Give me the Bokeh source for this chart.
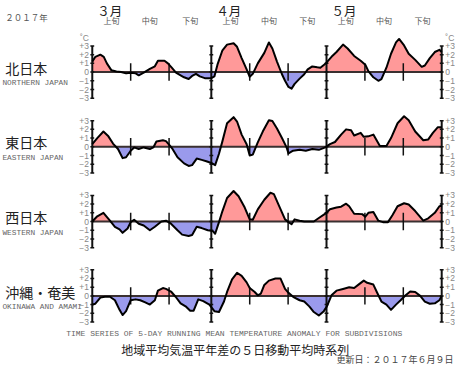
import numpy as np
from bokeh.plotting import figure
from bokeh.models import Label, Range1d
from bokeh.embed import file_html
from bokeh.resources import INLINE

# ---------------- data ----------------
REGIONS_JA = ["北日本", "東日本", "西日本", "沖縄・奄美"]
REGIONS_EN = ["NORTHERN JAPAN", "EASTERN JAPAN", "WESTERN JAPAN", "OKINAWA AND AMAMI"]
MONTHS = ["３月", "４月", "５月"]
MONTH_START = [0, 31, 61, 91]          # days since 1 March
DEKADS = ["上旬", "中旬", "下旬"]
DEKAD_START = [0, 10, 20, 31, 41, 51, 61, 71, 81, 91]
Y_TICKS = [3, 2, 1, 0, -1, -2, -3]
Y_TICK_LABELS = ["+3", "+2", "+1", "0", "−1", "−2", "−3"]
YEAR_LABEL = "２０１７年"
TITLE_EN = "TIME SERIES OF 5-DAY RUNNING MEAN TEMPERATURE ANOMALY FOR SUBDIVISIONS"
TITLE_JA = "地域平均気温平年差の５日移動平均時系列"
UPDATED = "更新日：２０１７年６月９日"

days_north = [0, 0.8, 2.1, 3.0, 3.8, 5.0, 6.3, 7.5, 8.8, 10.0,
              11.3, 12.1, 13.4, 15.0, 16.3, 17.1, 18.8, 19.7, 20.7, 21.8,
              23.0, 23.9, 25.1, 26.0, 27.0, 28.0, 29.3, 31.0, 31.8, 32.6,
              33.9, 35.1, 36.8, 37.7, 38.9, 40.2, 41.0, 41.8, 43.1, 44.8,
              46.0, 46.9, 48.1, 49.4, 50.2, 51.1, 51.9, 52.7, 54.0, 55.2,
              56.1, 57.3, 58.6, 59.4, 60.7, 62.3, 63.6, 65.3, 66.5, 68.2,
              69.9, 71.1, 71.9, 73.2, 74.5, 75.3, 76.6, 77.8, 79.1, 79.9,
              81.2, 82.4, 84.1, 85.8, 86.6, 87.9, 89.2, 90.4, 91.0]
anom_north = [1.2, 1.75, 2.0, 1.75, 1.0, 0.2, 0.07, 0.0, -0.15, -0.07,
              -0.15, -0.37, -0.07, 0.37, 0.66, 1.3, 1.3, 1.0, 0.5, -0.07,
              -0.37, -0.6, -0.8, -0.44, -0.2, -0.5, -0.7, -0.7, -0.5, 0.85,
              2.5, 3.15, 3.3, 2.9, 1.6, 0.3, -0.55, -0.2, 1.0, 2.2,
              3.4, 2.7, 1.2, -0.25, -1.0, -1.7, -1.9, -1.35, -0.75, -0.25,
              0.3, 0.65, 0.55, 0.5, 0.95, 1.75, 2.3, 3.15, 2.7, 1.85,
              1.3, 0.85, 0.1, -0.6, -1.0, -0.8, 0.5, 2.1, 3.4, 3.8,
              3.05, 2.1, 1.4, 0.6, 0.75, 1.6, 2.3, 2.55, 2.3]

days_east = [0, 1.3, 2.9, 4.2, 5.4, 6.7, 7.9, 8.8, 10.0, 10.9,
             12.1, 13.4, 15.0, 15.9, 16.7, 18.4, 19.2, 20.1, 20.9, 22.2,
             23.9, 25.1, 26.0, 27.2, 28.5, 29.7, 31.0, 32.0, 33.0, 33.9,
             35.1, 36.8, 37.7, 38.9, 40.2, 41.0, 41.8, 43.1, 44.4, 46.0,
             46.9, 48.1, 49.4, 50.6, 51.1, 52.3, 54.0, 55.6, 57.3, 59.0,
             60.7, 61.9, 63.2, 64.8, 66.1, 67.4, 68.2, 69.9, 70.7, 71.9,
             73.2, 74.9, 76.6, 77.8, 79.5, 81.2, 82.4, 84.1, 86.2, 87.5,
             88.7, 90.0, 91.0]
anom_east = [0.3, 1.0, 1.75, 1.2, 0.37, -0.25, -1.3, -1.2, -0.45, -0.07,
             -0.25, -0.07, -0.25, -0.07, 0.6, 0.75, 0.65, 0.2, -0.25, -1.2,
             -1.9, -2.2, -2.1, -1.35, -1.5, -1.65, -1.85, -2.1, -0.8, 0.65,
             2.7, 3.4, 2.9, 1.4, 0.3, -1.0, -0.9, 0.5, 1.75, 3.05,
             2.95, 2.1, 1.0, -0.07, -0.75, -0.45, -0.35, -0.45, -0.25, -0.35,
             -0.07, 0.3, 0.55, 1.4, 2.0, 1.9, 1.3, 1.6, 1.15, 1.2,
             1.4, 0.1, 0.1, 1.0, 2.7, 3.5, 3.05, 1.75, 0.75, 0.85,
             1.6, 2.25, 2.25]

days_west = [0, 1.3, 2.9, 4.6, 5.9, 7.1, 7.9, 9.2, 10.0, 10.9,
             12.1, 13.4, 15.0, 16.3, 18.0, 19.2, 20.5, 22.2, 23.4, 25.1,
             26.0, 27.2, 28.5, 30.1, 31.4, 32.0, 33.0, 33.9, 35.1, 36.8,
             38.1, 39.7, 41.0, 41.8, 43.1, 44.8, 46.4, 47.3, 48.5, 50.2,
             51.1, 51.9, 52.7, 54.0, 55.2, 56.5, 57.7, 59.0, 60.7, 61.9,
             63.6, 64.8, 66.1, 66.9, 68.2, 70.3, 71.1, 71.9, 73.2, 74.5,
             75.7, 77.0, 78.2, 79.5, 81.2, 82.4, 84.1, 86.2, 87.5, 89.2,
             90.4, 91.0]
anom_west = [0.0, 0.6, 1.0, 0.1, -0.6, -0.9, -1.3, -0.8, -0.07, 0.2,
             -0.25, -0.45, -1.0, -0.6, 0.0, 0.1, -0.25, -1.0, -1.5, -1.65,
             -1.55, -0.6, -0.75, -1.0, -1.1, -1.4, -0.07, 1.2, 2.7, 3.5,
             2.9, 1.6, 0.25, 0.2, 1.4, 2.5, 3.3, 3.15, 1.95, 0.25,
             -0.07, -0.3, 0.25, 0.1, 0.0, 0.0, 0.0, 0.4, 0.9, 1.4,
             1.6, 1.7, 2.05, 1.75, 0.9, 0.85, 0.55, 1.0, 1.1, 0.1,
             -0.07, -0.07, 0.75, 1.75, 2.1, 1.95, 1.2, 0.1, 0.37, 1.0,
             1.75, 1.8]

days_okinawa = [0, 0.8, 2.1, 3.3, 4.6, 5.9, 7.1, 7.9, 8.8, 10.0,
                11.3, 12.5, 13.8, 15.0, 16.3, 17.1, 18.4, 19.2, 20.5, 21.7,
                23.0, 24.3, 25.5, 26.4, 27.6, 28.9, 30.5, 31.8, 33.0, 34.3,
                35.1, 36.4, 37.7, 38.9, 40.2, 41.0, 42.3, 43.1, 43.9, 44.8,
                46.0, 47.7, 49.0, 50.2, 51.1, 52.3, 54.0, 55.2, 56.5, 57.7,
                59.0, 60.3, 61.1, 62.3, 63.6, 65.3, 66.9, 68.2, 69.5, 70.7,
                71.6, 73.2, 74.1, 75.3, 76.6, 77.8, 79.1, 80.3, 81.6, 82.8,
                84.1, 85.4, 86.6, 87.9, 89.2, 90.4, 91.0]
anom_okinawa = [-1.0, -0.9, -0.2, -0.1, -0.1, -0.5, -1.6, -2.2, -1.75, -0.5,
                -0.4, -0.5, -0.75, -1.0, -0.5, 0.6, 0.9, 0.8, 0.5, -0.1,
                -0.85, -1.2, -1.7, -1.7, -0.4, -0.6, -1.0, -1.75, -1.85, -0.65,
                0.45, 1.9, 2.65, 2.3, 1.55, 0.9, 0.45, 0.07, 0.25, 1.25,
                1.75, 2.0, 2.0, 0.8, 0.35, -0.1, -0.5, -0.65, -1.2, -1.85,
                -2.25, -1.75, -1.2, 0.07, 0.6, 0.8, 1.0, 0.9, 1.35, 1.75,
                1.5, 1.3, 0.45, -0.65, -1.0, -1.6, -1.0, -0.5, 0.07, 0.5,
                0.45, 0.0, -0.65, -0.9, -0.85, -0.5, 0.0]

SERIES = [(days_north, anom_north), (days_east, anom_east),
          (days_west, anom_west), (days_okinawa, anom_okinawa)]

# ---------------- layout helpers ----------------
W, H = 455, 366
REF_W, REF_H = 471, 382
PX_PER_DAY = 3.975      # reference pixels per day
PX_PER_DEG = 9.1        # reference pixels per degree
X0_REF, Y0_REF = 95.0, 74.7
PANEL_ZERO_REF = [74.7, 152.7, 230.7, 308.3]


def rx(xr):
    return (xr - X0_REF) / PX_PER_DAY


def ry(yr):
    return (Y0_REF - yr) / PX_PER_DEG


p = figure(width=W, height=H, x_range=Range1d(rx(0), rx(REF_W)),
           y_range=Range1d(ry(REF_H), ry(0)), output_backend="svg",
           toolbar_location=None, x_axis_type=None, y_axis_type=None,
           min_border=0, min_border_left=0, min_border_right=0,
           min_border_top=0, min_border_bottom=0)
p.grid.visible = False
p.outline_line_color = None
p.background_fill_color = "white"
p.border_fill_color = "white"

POS = "#ff9999"
NEG = "#9a9aec"
TICK_HALF = 0.5


def with_crossings(x, v):
    xs, vs = [x[0]], [v[0]]
    for i in range(1, len(x)):
        a, b = v[i - 1], v[i]
        if a * b < 0:
            t = a / (a - b)
            xs.append(x[i - 1] + t * (x[i] - x[i - 1]))
            vs.append(0.0)
        xs.append(x[i])
        vs.append(b)
    return np.array(xs, float), np.array(vs, float)


label_font_num = "Liberation Sans"
cjk = "Noto Sans CJK JP"
mono = "Liberation Mono"

for k, ((dx, dv), zref) in enumerate(zip(SERIES, PANEL_ZERO_REF)):
    off = ry(zref)
    xs, vs = with_crossings(dx, dv)
    p.varea(x=xs, y1=np.full(len(xs), off), y2=off + np.maximum(vs, 0),
            fill_color=POS, fill_alpha=1)
    p.varea(x=xs, y1=np.full(len(xs), off), y2=off + np.minimum(vs, 0),
            fill_color=NEG, fill_alpha=1)
    # zero line
    p.segment(x0=[MONTH_START[0]], x1=[MONTH_START[-1]], y0=[off], y1=[off],
              line_color="#3a3030", line_width=2)
    # month axes with degree ticks
    p.segment(x0=MONTH_START, x1=MONTH_START,
              y0=[off + min(Y_TICKS)] * len(MONTH_START),
              y1=[off + max(Y_TICKS)] * len(MONTH_START),
              line_color="#111111", line_width=2)
    tx0, tx1, ty = [], [], []
    for m in MONTH_START:
        for t in Y_TICKS:
            tx0.append(m - TICK_HALF)
            tx1.append(m + TICK_HALF)
            ty.append(off + t)
    p.segment(x0=tx0, x1=tx1, y0=ty, y1=ty, line_color="#111111", line_width=1.5)
    # dekad ticks
    inner = [d for d in DEKAD_START if d not in MONTH_START]
    p.segment(x0=inner, x1=inner, y0=[off - 1] * len(inner), y1=[off + 1] * len(inner),
              line_color="#111111", line_width=1.5)
    # curve
    p.line(x=dx, y=[off + v for v in dv], line_color="black", line_width=2,
           line_join="round")

    # tick labels both sides
    for t, lab in zip(Y_TICKS, Y_TICK_LABELS):
        p.add_layout(Label(x=rx(91.5), y=off + t, text=lab, text_align="right",
                           text_baseline="middle", text_font=label_font_num,
                           text_font_size="8.5px", text_color="#888888"))
        p.add_layout(Label(x=rx(460.5), y=off + t, text=lab, text_align="left",
                           text_baseline="middle", text_font=label_font_num,
                           text_font_size="8.5px", text_color="#888888"))
    # region names
    p.add_layout(Label(x=rx(5), y=ry(zref - 4.5), text=REGIONS_JA[k], text_align="left",
                       text_baseline="middle", text_font=cjk, text_font_size="14px",
                       text_color="#222222"))
    p.add_layout(Label(x=rx(2), y=ry(zref + 11.5), text=REGIONS_EN[k], text_align="left",
                       text_baseline="middle", text_font=mono, text_font_size="7.8px",
                       text_color="#666666"))

# degree unit labels (top panel)
for xr, al in [(91.5, "right"), (460.5, "left")]:
    p.add_layout(Label(x=rx(xr), y=ry(39.5), text="˚C", text_align=al,
                       text_baseline="middle", text_font=label_font_num,
                       text_font_size="8.5px", text_color="#888888"))

# month & dekad headers
for i, mname in enumerate(MONTHS):
    p.add_layout(Label(x=MONTH_START[i] + 1.3, y=ry(10), text=mname, text_align="left",
                       text_baseline="middle", text_font=cjk, text_font_size="12.5px",
                       text_color="#222222"))
for i in range(len(DEKAD_START) - 1):
    c = (DEKAD_START[i] + DEKAD_START[i + 1]) / 2
    p.add_layout(Label(x=c, y=ry(21), text=DEKADS[i % 3], text_align="center",
                       text_baseline="middle", text_font=cjk, text_font_size="8px",
                       text_color="#555555"))

p.add_layout(Label(x=rx(5), y=ry(17), text=YEAR_LABEL, text_align="left",
                   text_baseline="middle", text_font=cjk, text_font_size="8.5px",
                   text_color="#555555"))

# bottom titles
p.add_layout(Label(x=rx(68), y=ry(348), text=TITLE_EN, text_align="left",
                   text_baseline="middle", text_font=mono, text_font_size="8px",
                   text_color="#666666"))
p.add_layout(Label(x=rx(125), y=ry(364), text=TITLE_JA, text_align="left",
                   text_baseline="middle", text_font=cjk, text_font_size="12px",
                   text_color="#222222"))
p.add_layout(Label(x=rx(469), y=ry(375), text=UPDATED, text_align="right",
                   text_baseline="middle", text_font=cjk, text_font_size="9px",
                   text_color="#444444"))

open("out.html", "w").write(file_html(p, INLINE))
